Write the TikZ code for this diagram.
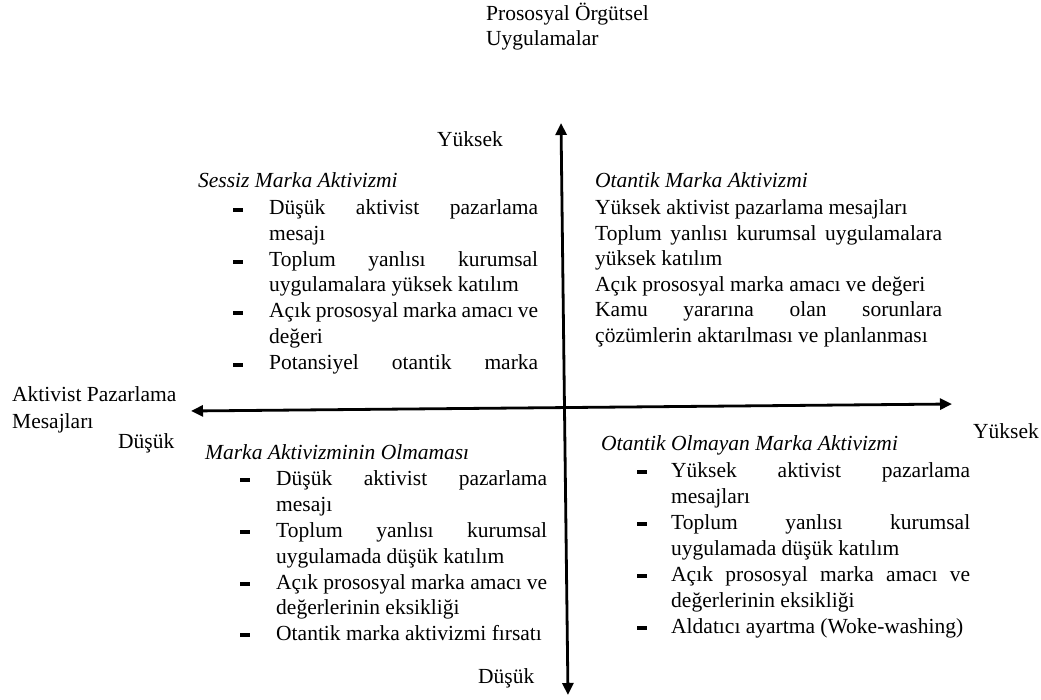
\documentclass[tikz,border=0pt]{standalone}
\usepackage{fontspec}
\setmainfont{Liberation Serif}
\usetikzlibrary{arrows.meta}
\tikzset{
  txt/.style={font=\fontsize{21.5pt}{25.8pt}\selectfont, inner sep=0pt, anchor=base west},
  ttl/.style={txt, font=\fontsize{21.5pt}{25.8pt}\selectfont\itshape},
  axis/.style={line width=2.8pt, {Triangle[length=12pt,width=11pt]}-{Triangle[length=12pt,width=11pt]}},
  bul/.style={fill=black, draw=none, minimum width=10pt, minimum height=3.6pt, inner sep=0pt, anchor=center}
}
\newcommand{\jl}[2]{\makebox[#1pt][s]{#2}}
\begin{document}
\begin{tikzpicture}[x=1pt,y=-1pt]
\useasboundingbox (0,0) rectangle (1041,700);
% axes
\coordinate (hL) at (191,411);
\coordinate (hR) at (952,404);
\coordinate (vT) at (561,123);
\coordinate (vB) at (568,695);
\draw[axis] (hL) -- (hR);
\draw[axis] (vB) -- (vT);
% axis labels
\node[txt] (top1) at (486,21) {Prososyal Örgütsel};
\node[txt] (top2) at (486,46) {Uygulamalar};
\node[txt] (yhigh) at (437,147) {Yüksek};
\node[txt] (ylow) at (478,683) {Düşük};
\node[txt] (xl1) at (12,401) {Aktivist Pazarlama};
\node[txt] (xl2) at (12,428) {Mesajları};
\node[txt] (xlow) at (118,448) {Düşük};
\node[txt] (xhigh) at (973,438) {Yüksek};
% top-left quadrant
\node[ttl] (q1t) at (198,188) {Sessiz Marka Aktivizmi};
\node[txt] (q1a) at (269,215) {\jl{269}{Düşük aktivist pazarlama}};
\node[txt] (q1b) at (269,241) {mesajı};
\node[txt] (q1c) at (269,267) {\jl{269}{Toplum yanlısı kurumsal}};
\node[txt] (q1d) at (269,292) {uygulamalara yüksek katılım};
\node[txt] (q1e) at (269,318) {\jl{269}{Açık prososyal marka amacı ve}};
\node[txt] (q1f) at (269,344) {değeri};
\node[txt] (q1g) at (269,370) {\jl{269}{Potansiyel otantik marka}};
\foreach \yy/\nm in {215/a,267/b,318/c,370/d}
  \node[bul] (q1b\nm) at (238,\yy-5) {};
% top-right quadrant
\node[ttl] (q2t) at (595,188) {Otantik Marka Aktivizmi};
\node[txt] (q2a) at (595,215) {Yüksek aktivist pazarlama mesajları};
\node[txt] (q2b) at (595,241) {\jl{347}{Toplum yanlısı kurumsal uygulamalara}};
\node[txt] (q2c) at (595,266) {yüksek katılım};
\node[txt] (q2d) at (595,292) {Açık prososyal marka amacı ve değeri};
\node[txt] (q2e) at (595,317) {\jl{347}{Kamu yararına olan sorunlara}};
\node[txt] (q2f) at (595,343) {çözümlerin aktarılması ve planlanması};
% bottom-left quadrant
\node[ttl] (q3t) at (205,459) {Marka Aktivizminin Olmaması};
\node[txt] (q3a) at (276,485) {\jl{271}{Düşük aktivist pazarlama}};
\node[txt] (q3b) at (276,511) {mesajı};
\node[txt] (q3c) at (276,537) {\jl{271}{Toplum yanlısı kurumsal}};
\node[txt] (q3d) at (276,563) {uygulamada düşük katılım};
\node[txt] (q3e) at (276,589) {Açık prososyal marka amacı ve};
\node[txt] (q3f) at (276,614) {değerlerinin eksikliği};
\node[txt] (q3g) at (276,640) {Otantik marka aktivizmi fırsatı};
\foreach \yy/\nm in {485/a,537/b,589/c,640/d}
  \node[bul] (q3b\nm) at (245,\yy-5) {};
% bottom-right quadrant
\node[ttl] (q4t) at (601,450) {Otantik Olmayan Marka Aktivizmi};
\node[txt] (q4a) at (671,477) {\jl{299}{Yüksek aktivist pazarlama}};
\node[txt] (q4b) at (671,503) {mesajları};
\node[txt] (q4c) at (671,529) {\jl{299}{Toplum yanlısı kurumsal}};
\node[txt] (q4d) at (671,555) {uygulamada düşük katılım};
\node[txt] (q4e) at (671,581) {\jl{299}{Açık prososyal marka amacı ve}};
\node[txt] (q4f) at (671,607) {değerlerinin eksikliği};
\node[txt] (q4g) at (671,633) {Aldatıcı ayartma (Woke-washing)};
\foreach \yy/\nm in {477/a,529/b,581/c,633/d}
  \node[bul] (q4b\nm) at (642,\yy-5) {};
\end{tikzpicture}
\end{document}
